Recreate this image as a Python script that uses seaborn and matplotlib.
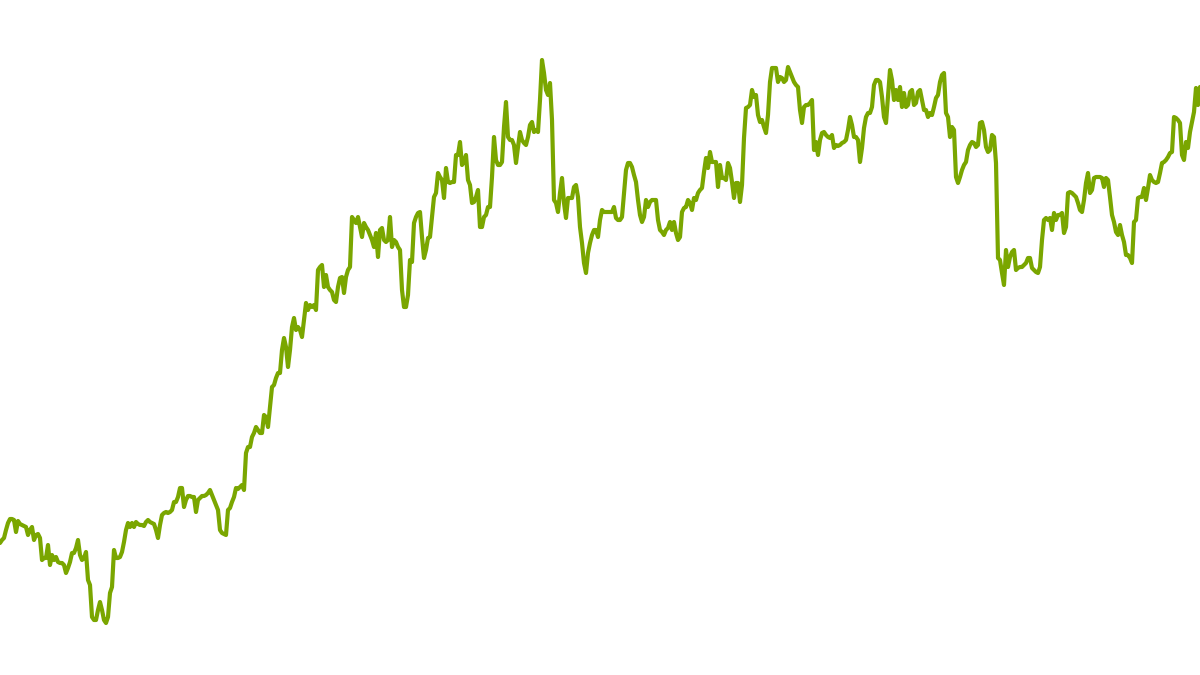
import pandas as pd
import seaborn as sns
import matplotlib.pyplot as plt

# price series, one reading per step
prices = [
    132, 135, 137, 145, 152, 156, 156, 155, 143, 154,
    151, 150, 149, 148, 140, 145, 148, 135, 140, 141,
    137, 115, 117, 117, 130, 110, 120, 115, 118, 113,
    112, 112, 110, 102, 107, 113, 122, 122, 127, 135,
    120, 115, 117, 123, 95, 90, 58, 55, 55, 65,
    73, 65, 55, 52, 58, 82, 88, 125, 117, 117,
    118, 123, 133, 145, 152, 148, 152, 148, 153, 151,
    150, 150, 149, 153, 155, 153, 152, 151, 145, 137,
    150, 160, 162, 163, 162, 163, 165, 173, 173, 178,
    187, 187, 168, 175, 179, 179, 178, 178, 163, 175,
    177, 179, 179, 180, 182, 185, 180, 175, 170, 165,
    145, 142, 141, 140, 165, 167, 173, 178, 187, 186,
    188, 190, 185, 222, 228, 228, 238, 242, 248, 245,
    242, 242, 260, 258, 248, 268, 288, 290, 297, 302,
    302, 325, 337, 328, 308, 325, 348, 357, 345, 348,
    345, 338, 355, 372, 365, 370, 368, 370, 365, 405,
    408, 410, 388, 400, 388, 385, 383, 375, 373, 388,
    397, 398, 382, 398, 405, 408, 458, 455, 452, 458,
    448, 438, 452, 448, 445, 440, 435, 428, 442, 418,
    445, 447, 435, 433, 435, 458, 428, 435, 433, 428,
    425, 385, 368, 368, 380, 415, 413, 452, 458, 462,
    463, 438, 417, 425, 437, 438, 458, 478, 482, 502,
    498, 495, 477, 507, 493, 492, 493, 493, 520, 520,
    533, 510, 513, 520, 495, 490, 472, 473, 478, 485,
    448, 448, 458, 460, 468, 468, 498, 538, 515, 510,
    510, 513, 548, 573, 538, 535, 535, 530, 512, 528,
    543, 535, 532, 530, 538, 550, 553, 543, 545, 543,
    575, 615, 602, 585, 580, 592, 555, 475, 472, 463,
    482, 497, 472, 457, 477, 477, 477, 488, 490, 478,
    448, 432, 412, 402, 422, 432, 440, 445, 445, 438,
    455, 465, 463, 463, 463, 463, 463, 468, 457, 455,
    455, 458, 482, 505, 512, 512, 508, 500, 493, 475,
    460, 453, 458, 475, 468, 473, 475, 475, 475, 455,
    445, 443, 440, 445, 447, 453, 445, 453, 442, 435,
    438, 463, 467, 468, 475, 472, 465, 477, 475, 482,
    485, 487, 503, 517, 507, 523, 513, 513, 513, 488,
    510, 497, 497, 495, 512, 507, 493, 477, 492, 492,
    473, 490, 537, 567, 568, 570, 585, 578, 580, 560,
    553, 555, 548, 542, 560, 593, 607, 607, 607, 593,
    598, 597, 593, 595, 608, 603, 598, 593, 590, 588,
    565, 552, 568, 570, 570, 572, 575, 525, 533, 520,
    535, 542, 543, 540, 538, 537, 540, 527, 530, 529,
    530, 532, 533, 535, 545, 558, 550, 538, 538, 535,
    513, 527, 547, 558, 562, 562, 568, 590, 595, 595,
    593, 578, 558, 552, 578, 605, 595, 575, 585, 575,
    588, 568, 582, 568, 570, 583, 585, 570, 572, 583,
    585, 575, 565, 565, 558, 562, 560, 568, 577, 580,
    593, 600, 602, 562, 558, 538, 548, 545, 498, 492,
    498, 505, 510, 513, 525, 530, 533, 532, 528, 530,
    552, 553, 545, 528, 523, 525, 540, 538, 512, 417,
    415, 402, 390, 425, 408, 418, 423, 425, 405, 407,
    408, 408, 410, 412, 417, 417, 407, 405, 403, 402,
    408, 435, 455, 457, 455, 457, 445, 462, 455, 460,
    460, 462, 442, 448, 482, 483, 482, 480, 478, 472,
    465, 463, 475, 492, 502, 482, 485, 497, 498, 498,
    498, 497, 488, 497, 495, 478, 460, 453, 443, 440,
    450, 440, 433, 420, 420, 417, 412, 453, 455, 477,
    478, 478, 487, 475, 487, 500, 495, 493, 492, 493,
    502, 512, 513, 515, 518, 522, 523, 558, 557, 555,
    552, 520, 515, 533, 527, 543, 553, 563, 587, 570, 588,
]
dates = pd.date_range('2020-01-01', periods=len(prices), freq='D')

df = pd.DataFrame({'date': dates, 'price': prices})

sns.set_theme(style="white")

fig = plt.figure(figsize=(12, 6.75), dpi=100)
ax = fig.add_axes([0, 0, 1, 1])

sns.lineplot(data=df, x='date', y='price', color='#7aa600', linewidth=3.0, ax=ax)

ax.set_xlim(dates[0], dates[-1])
ax.set_ylim(0, 675)
ax.axis('off')

fig.savefig('out.png', dpi=100)
